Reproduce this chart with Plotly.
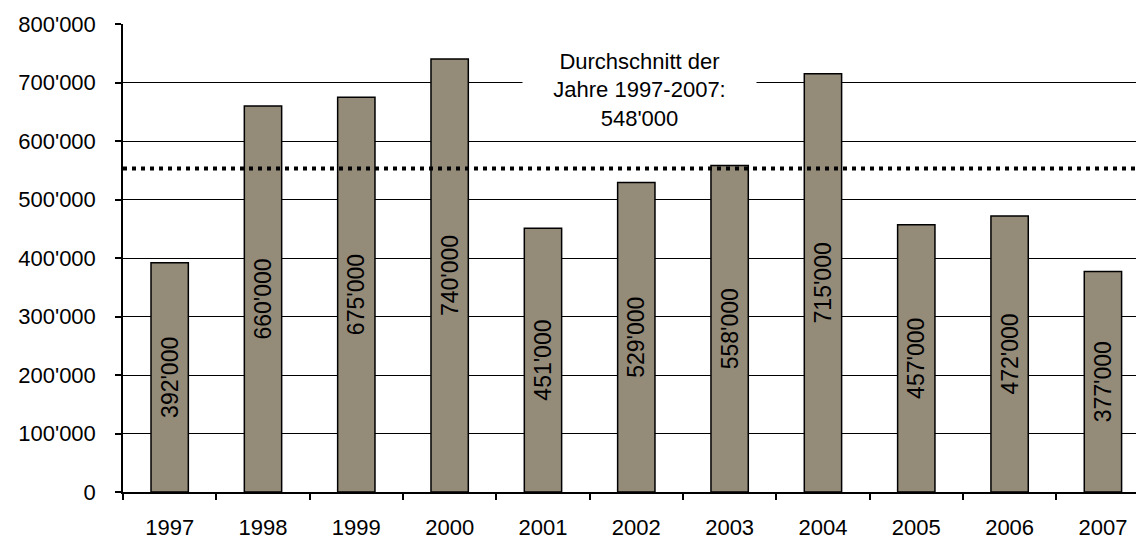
import plotly.graph_objects as go

years = ["1997", "1998", "1999", "2000", "2001", "2002", "2003", "2004", "2005", "2006", "2007"]
values = [392000, 660000, 675000, 740000, 451000, 529000, 558000, 715000, 457000, 472000, 377000]
avg_label = "Durchschnitt der<br>Jahre 1997-2007:<br>548'000"
avg_line_level = 553000
y_ticks = [0, 100000, 200000, 300000, 400000, 500000, 600000, 700000, 800000]

FONT = "Liberation Sans, Arial, sans-serif"
FS = 22

fig = go.Figure()
fig.add_trace(go.Bar(
    x=years, y=values,
    width=0.4,
    marker=dict(color="#948B79", line=dict(color="black", width=1.5)),
    texttemplate="%{y:,.0f}",
    textposition="inside",
    insidetextanchor="middle",
    textangle=-90,
    textfont=dict(family=FONT, size=23, color="black"),
    cliponaxis=False,
))

fig.add_shape(type="line", xref="paper", x0=0, x1=1, yref="y",
              y0=avg_line_level, y1=avg_line_level,
              line=dict(color="black", width=4, dash="4px,5px"), layer="above")

fig.add_annotation(xref="paper", yref="paper", x=0.506, y=0.859,
                   xanchor="center", yanchor="middle",
                   text=avg_label, showarrow=False, align="center",
                   bgcolor="white", width=231, height=86,
                   font=dict(family=FONT, size=22, color="black"))

fig.update_layout(
    width=1136, height=537,
    margin=dict(l=115, r=0, t=16, b=53),
    paper_bgcolor="white", plot_bgcolor="white",
    separators=".'",
    showlegend=False,
    font=dict(family=FONT, size=FS, color="black"),
    xaxis=dict(type="category", range=[-0.5, 10.44], tickson="boundaries",
               ticks="outside", ticklen=6, tickcolor="black", tickwidth=1.5,
               showline=True, linecolor="black", linewidth=1.5,
               showgrid=False, ticklabelstandoff=15,
               tickfont=dict(family=FONT, size=FS, color="black")),
    yaxis=dict(range=[0, 800000], tickvals=y_ticks, tickformat=",.0f",
               ticks="outside", ticklen=6, tickcolor="black", tickwidth=1.5,
               showline=True, linecolor="black", linewidth=1.5,
               showgrid=True, gridcolor="black", gridwidth=1,
               zeroline=False, ticklabelstandoff=15,
               tickfont=dict(family=FONT, size=FS, color="black")),
    bargap=0.6,
)

fig.write_html("out.html")
